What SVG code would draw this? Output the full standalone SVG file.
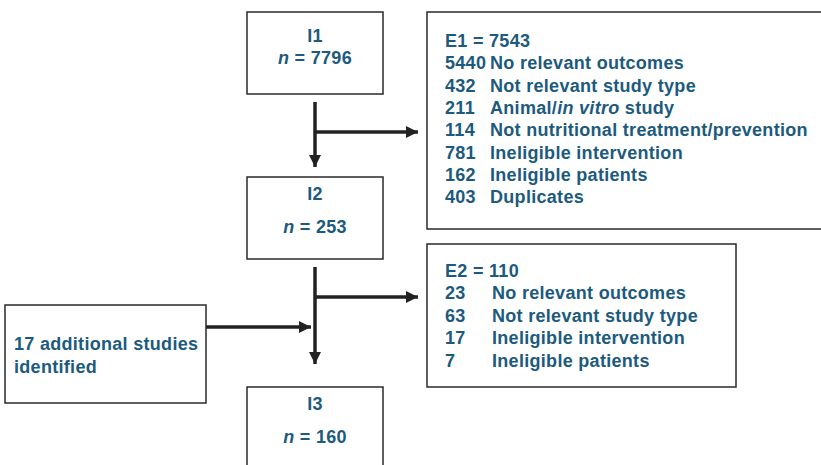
<svg xmlns="http://www.w3.org/2000/svg" width="821" height="465" viewBox="0 0 821 465">
<style>
.box{fill:#fff;stroke:#2a2a2a;stroke-width:1.5}
.t{font-family:"Liberation Sans",Arial,sans-serif;font-weight:bold;font-size:18px;letter-spacing:0.3px;fill:#1c5a7e}
.c{text-anchor:middle}
.ln{stroke:#222;stroke-width:3.5;fill:none}
</style>
<defs>
<marker id="ah" markerUnits="userSpaceOnUse" markerWidth="14" markerHeight="14" refX="12" refY="6" orient="auto" viewBox="0 0 14 12">
<path d="M0,0 L12,6 L0,12 Z" fill="#222"/>
</marker>
</defs>
<rect width="821" height="465" fill="#fff"/>
<g id="I1"><rect class="box" x="247" y="12" width="136" height="82"/>
<text class="t c" x="315" y="42">I1</text>
<text class="t c" x="315" y="64"><tspan font-style="italic">n</tspan> = 7796</text></g>
<g id="E1"><rect class="box" x="427" y="12" width="400" height="217"/>
<text class="t" x="445" y="47">E1 = 7543</text>
<text class="t" x="445" y="69">5440</text><text class="t" x="490" y="69">No relevant outcomes</text>
<text class="t" x="445" y="92">432</text><text class="t" x="490" y="92">Not relevant study type</text>
<text class="t" x="445" y="114">211</text><text class="t" x="490" y="114">Animal/<tspan font-style="italic">in vitro</tspan> study</text>
<text class="t" x="445" y="136">114</text><text class="t" x="490" y="136">Not nutritional treatment/prevention</text>
<text class="t" x="445" y="159">781</text><text class="t" x="490" y="159">Ineligible intervention</text>
<text class="t" x="445" y="181">162</text><text class="t" x="490" y="181">Ineligible patients</text>
<text class="t" x="445" y="203">403</text><text class="t" x="490" y="203">Duplicates</text></g>
<g id="I2"><rect class="box" x="247" y="177" width="136" height="82"/>
<text class="t c" x="315" y="200">I2</text>
<text class="t c" x="315" y="233"><tspan font-style="italic">n</tspan> = 253</text></g>
<g id="E2"><rect class="box" x="427" y="244" width="309" height="143"/>
<text class="t" x="445" y="277">E2 = 110</text>
<text class="t" x="445" y="299">23</text><text class="t" x="492" y="299">No relevant outcomes</text>
<text class="t" x="445" y="322">63</text><text class="t" x="492" y="322">Not relevant study type</text>
<text class="t" x="445" y="344">17</text><text class="t" x="492" y="344">Ineligible intervention</text>
<text class="t" x="445" y="367">7</text><text class="t" x="492" y="367">Ineligible patients</text></g>
<g id="A"><rect class="box" x="5" y="305" width="201" height="98"/>
<text class="t" x="14" y="350">17 additional studies</text>
<text class="t" x="14" y="373">identified</text></g>
<g id="I3"><rect class="box" x="247" y="387" width="136" height="90"/>
<text class="t c" x="315" y="410">I3</text>
<text class="t c" x="315" y="443"><tspan font-style="italic">n</tspan> = 160</text></g>
<g id="connectors">
<line class="ln" x1="315" y1="102" x2="315" y2="167" marker-end="url(#ah)"/>
<line class="ln" x1="315" y1="132" x2="418" y2="132" marker-end="url(#ah)"/>
<line class="ln" x1="315" y1="267" x2="315" y2="364" marker-end="url(#ah)"/>
<line class="ln" x1="315" y1="297" x2="418" y2="297" marker-end="url(#ah)"/>
<line class="ln" x1="206" y1="327" x2="311" y2="327" marker-end="url(#ah)"/>
</g>
</svg>
